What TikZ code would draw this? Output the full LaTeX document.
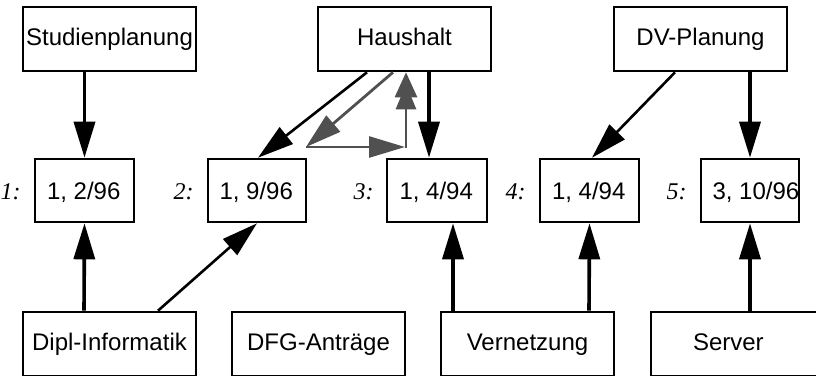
\documentclass[tikz,border=0pt]{standalone}
\usepackage{fontspec}
\setmainfont{Liberation Sans}
\newfontfamily\lblfont{Liberation Serif}
\usetikzlibrary{arrows.meta}

\tikzset{
  box/.style={draw, line width=2.6pt, inner sep=0pt,
    minimum width=173pt, minimum height=64pt,
    text height=17pt, text depth=5pt,
    font=\fontsize{24}{28}\selectfont},
  datebox/.style={draw, line width=2.6pt, inner sep=0pt,
    minimum height=63pt, text height=18pt, text depth=0pt,
    font=\fontsize{24}{28}\selectfont},
  lbl/.style={inner sep=0pt, anchor=base east,
    font=\lblfont\itshape\fontsize{24}{28}\selectfont},
  head/.style={-{Triangle[length=36pt,width=21pt]}},
  strong/.style={head, line width=3.6pt},
  thin/.style={head, line width=2.6pt},
  greyarrow/.style={head, line width=2.8pt, draw=arrowgrey, color=arrowgrey},
}
\definecolor{arrowgrey}{HTML}{505050}
\newcommand{\datetext}[1]{\makebox[75pt][l]{#1}}

\begin{document}
\begin{tikzpicture}[x=1pt, y=-1pt]
  \useasboundingbox (0,0) rectangle (816,375);
  \clip (0,0) rectangle (816,375);

  % top row
  \node[box] (stud) at (109.5,39) {Studienplanung};
  \node[box] (haus) at (404.5,39) {Haushalt};
  \node[box] (dvpl) at (700.5,39) {DV-Planung};

  % middle row with numbered labels
  \node[datebox, minimum width=99pt]  (b1) at (84.5,190.5) {\datetext{1, 2/96}};
  \node[datebox, minimum width=98pt]  (b2) at (257,190.5)  {\datetext{1, 9/96}};
  \node[datebox, minimum width=100pt] (b3) at (437,190.5)  {\datetext{1, 4/94}};
  \node[datebox, minimum width=99pt]  (b4) at (589.5,190.5) {\datetext{1, 4/94}};
  \node[datebox, minimum width=98pt]  (b5) at (750,190.5)  {\datetext{3, 10/96}};

  \node[lbl] (l1) at ([xshift=-13pt]b1.base west) {1:};
  \node[lbl] (l2) at ([xshift=-13pt]b2.base west) {2:};
  \node[lbl] (l3) at ([xshift=-12pt]b3.base west) {3:};
  \node[lbl] (l4) at ([xshift=-13pt]b4.base west) {4:};
  \node[lbl] (l5) at ([xshift=-13pt]b5.base west) {5:};

  % bottom row
  \node[box] (dipl) at (109.5,344) {Dipl-Informatik};
  \node[box] (dfg)  at (318.5,344) {DFG-Anträge};
  \node[box] (vern) at (527.5,344) {Vernetzung};
  \node[box] (serv) at (737.5,344) {\makebox[89pt][l]{Server}};

  % top row down to the dates
  \draw[strong] ([xshift=-25pt]stud.south) -- (b1.north);
  \draw[thin]   ([xshift=-37.5pt]haus.south) -- ([xshift=1pt]b2.north);
  \draw[strong] ([xshift=24.5pt]haus.south) -- ([xshift=-8pt]b3.north);
  \draw[thin]   ([xshift=-25.5pt]dvpl.south) -- ([xshift=2.5pt]b4.north);
  \draw[strong] ([xshift=49.5pt]dvpl.south) -- (b5.north);

  % grey loop below Haushalt
  \coordinate (g1) at (306,147);
  \coordinate (g2) at (405,147);
  \coordinate (g3) at (406,148.4);
  \draw[greyarrow] ([xshift=-11.5pt]haus.south) -- (g1);
  \draw[greyarrow] (g1) -- (g2);
  \draw[line width=2.8pt, draw=arrowgrey, color=arrowgrey,
        -{Triangle[length=25pt,width=20pt,sep=-13pt]Triangle[length=25pt,width=22pt]}]
        (g3) -- ([xshift=1.5pt]haus.south);

  % bottom row up to the dates
  \draw[strong] ([xshift=-25.5pt]dipl.north) -- (b1.south);
  \draw[thin]   ([xshift=48.5pt]dipl.north) -- (b2.south);
  \draw[strong] ([xshift=-74.5pt]vern.north) -- ([xshift=16pt]b3.south);
  \draw[strong] ([xshift=61.5pt]vern.north) -- (b4.south);
  \draw[strong] ([xshift=12.5pt]serv.north) -- (b5.south);
\end{tikzpicture}
\end{document}
